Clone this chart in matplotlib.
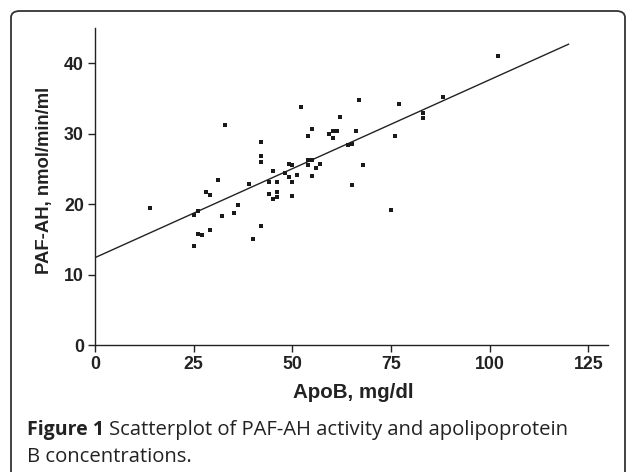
import numpy as np
import matplotlib
matplotlib.use("Agg")
import matplotlib.pyplot as plt
from matplotlib.patches import FancyBboxPatch

# ApoB (mg/dl) vs PAF-AH activity (nmol/min/ml)
apob = [52.2, 33.0, 62.1, 55.1, 54.1, 59.2, 60.2, 61.2, 60.2, 64.1,
        65.1, 42.1, 42.1, 42.1, 45.1, 49.1, 50.0, 48.1, 49.1, 51.1,
        54.1, 55.1, 54.1, 56.1, 57.1, 55.1, 31.1, 39.1, 44.0, 46.1,
        50.0, 28.1, 29.1, 44.0, 46.1, 46.1, 45.1, 50.0, 14.0, 26.1,
        25.1, 32.1, 35.1, 36.2, 26.1, 27.1, 29.1, 25.1, 42.1, 40.1,
        102.1, 67.0, 77.1, 88.1, 83.1, 83.1, 66.1, 76.1, 68.0, 65.2,
        75.1]
pafah = [33.8, 31.3, 32.3, 30.6, 29.7, 30.0, 30.4, 30.4, 29.4, 28.4,
         28.6, 28.8, 26.8, 26.0, 24.7, 25.7, 25.6, 24.4, 23.8, 24.2,
         26.2, 26.3, 25.5, 25.1, 25.7, 24.0, 23.4, 22.9, 23.1, 23.1,
         23.1, 21.7, 21.3, 21.5, 21.7, 21.0, 20.7, 21.1, 19.5, 19.0,
         18.4, 18.3, 18.8, 19.9, 15.7, 15.6, 16.3, 14.1, 16.9, 15.1,
         41.0, 34.8, 34.2, 35.2, 33.0, 32.2, 30.4, 29.7, 25.5, 22.7,
         19.1]

# fitted regression line
fit_intercept = 12.4
fit_slope = 0.2525
fit_x = [0, 120]

xticks = [0, 25, 50, 75, 100, 125]
yticks = [0, 10, 20, 30, 40]

axis_font = ['Liberation Sans', 'DejaVu Sans']
cap_font = ['Open Sans', 'DejaVu Sans']
W, H = 628, 472

fig = plt.figure(figsize=(6.28, 4.72), dpi=100)
fig.patch.set_facecolor('white')

# rounded frame around figure + caption
frame = FancyBboxPatch((11 / W, -0.05), 614 / W, 1 - 11 / H + 0.05,
                       boxstyle="round,pad=0,rounding_size=0.014",
                       transform=fig.transFigure, fill=False,
                       edgecolor='#333333', linewidth=1.3)
fig.patches.append(frame)

ax = fig.add_axes([95 / W, 1 - 345 / H, 513 / W, 317 / H])
ax.scatter(apob, pafah, marker='s', s=9, color='#1a1a1a', linewidths=0, zorder=3)
ax.plot(fit_x, [fit_intercept + fit_slope * v for v in fit_x],
        color='#222222', linewidth=1.0)

ax.set_xlim(0, 130)
ax.set_ylim(0, 45)
ax.set_xticks(xticks)
ax.set_yticks(yticks)
for s in ['top', 'right']:
    ax.spines[s].set_visible(False)
for s in ['left', 'bottom']:
    ax.spines[s].set_linewidth(1.0)
    ax.spines[s].set_color('#222222')
ax.tick_params(direction='out', length=5, width=1.0, color='#222222',
               labelsize=12.8, pad=3)
for lab in ax.get_xticklabels() + ax.get_yticklabels():
    lab.set_fontfamily(axis_font)
    lab.set_fontweight('bold')
    lab.set_color('#222222')

ax.set_xlabel('ApoB, mg/dl', fontsize=14.8, fontweight='bold',
              family=axis_font, color='#222222', va='center')
ax.xaxis.set_label_coords(258.5 / 513, (345 - 392) / 317)
ax.set_ylabel('PAF-AH, nmol/min/ml', fontsize=13.3, fontweight='bold',
              family=axis_font, color='#222222', va='center')
ax.yaxis.set_label_coords((45 - 95) / 513, (345 - 180) / 317)

# caption
t1 = fig.text(27 / W, 1 - 430 / H, 'Figure 1', fontsize=14,
              fontweight='bold', family=cap_font, color='#222222', va='center')
fig.canvas.draw()
bb = t1.get_window_extent()
fig.text(bb.x1 / W + 5 / W, 1 - 430 / H,
         'Scatterplot of PAF-AH activity and apolipoprotein',
         fontsize=14.6, family=cap_font, color='#222222', va='center')
fig.text(27 / W, 1 - 457 / H, 'B concentrations.', fontsize=14.6,
         family=cap_font, color='#222222', va='center')

fig.savefig('out.png', dpi=100)
